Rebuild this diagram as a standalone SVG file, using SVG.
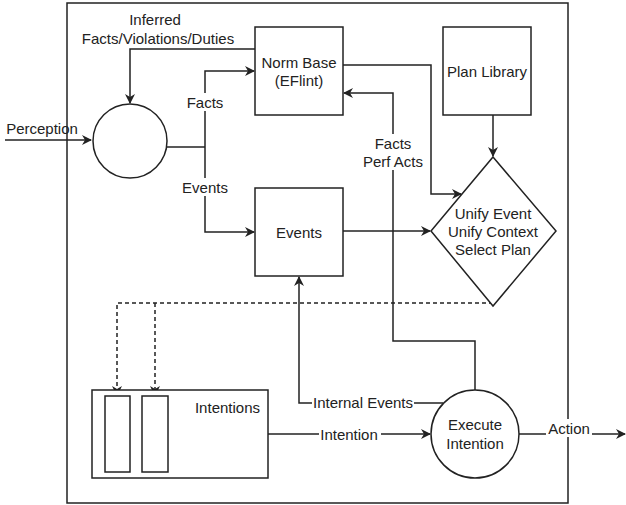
<svg xmlns="http://www.w3.org/2000/svg" width="626" height="505" viewBox="0 0 626 505">
<style>
.s{fill:none;stroke:#222;stroke-width:1.5}
.n{fill:#fff;stroke:#222;stroke-width:1.5}
.d{fill:none;stroke:#222;stroke-width:1.5;stroke-dasharray:4 3}
text{font-family:"Liberation Sans",Arial,sans-serif;font-size:15px;fill:#222;text-anchor:middle;dominant-baseline:central}
.bg{fill:#fff;stroke:none}
</style>
<defs>
<marker id="b" viewBox="0 0 10 10" refX="9" refY="5" markerWidth="10" markerHeight="10" markerUnits="userSpaceOnUse" orient="auto">
<path d="M0,0 L10,5 L0,10 L3,5 Z" fill="#222"/>
</marker>
</defs>
<rect id="agent" x="67" y="3" width="501" height="500" class="s"/>
<g id="connectors">
<path d="M5,140 H91" class="s" marker-end="url(#b)"/>
<path d="M255,49 H130 V103" class="s" marker-end="url(#b)"/>
<path d="M167,147 H205" class="s"/>
<path d="M205,147 V71 H254" class="s" marker-end="url(#b)"/>
<path d="M205,147 V232 H254" class="s" marker-end="url(#b)"/>
<path d="M343,65 H431 V194 H461" class="s" marker-end="url(#b)"/>
<path d="M493,115 V156" class="s" marker-end="url(#b)"/>
<path d="M343,231 H430" class="s" marker-end="url(#b)"/>
<path d="M475,390 V341 H393 V93 H344" class="s" marker-end="url(#b)"/>
<path d="M493,303 H117 V395" class="d" marker-end="url(#b)"/>
<path d="M155,303 V395" class="d" marker-end="url(#b)"/>
<path d="M268,434 H430" class="s" marker-end="url(#b)"/>
<path d="M443,403 H299 V277" class="s" marker-end="url(#b)"/>
<path d="M519,434 H625" class="s" marker-end="url(#b)"/>
<rect x="186" y="93" width="38" height="18" class="bg"/>
<text x="205" y="102">Facts</text>
<rect x="182" y="178" width="46" height="18" class="bg"/>
<text x="205" y="187">Events</text>
<rect x="374" y="134" width="38" height="18" class="bg"/>
<text x="393" y="143">Facts</text>
<rect x="360" y="152" width="66" height="18" class="bg"/>
<text x="393" y="161">Perf Acts</text>
<rect x="312" y="394" width="102" height="18" class="bg"/>
<text x="363" y="402">Internal Events</text>
<rect x="319" y="425" width="62" height="18" class="bg"/>
<text x="349" y="434">Intention</text>
<rect x="546" y="419" width="46" height="18" class="bg"/>
<text x="569" y="428">Action</text>
<text x="42" y="128">Perception</text>
<text x="155" y="19">Inferred</text>
<text x="158" y="38">Facts/Violations/Duties</text>
</g>
<g id="perception">
<circle cx="130" cy="141" r="37" class="n"/>
</g>
<g id="normbase">
<rect x="255" y="27" width="88" height="88" class="n"/>
<text x="299" y="62">Norm Base</text>
<text x="299" y="80">(EFlint)</text>
</g>
<g id="planlibrary">
<rect x="443" y="27" width="88" height="88" class="n"/>
<text x="487" y="71">Plan Library</text>
</g>
<g id="events">
<rect x="255" y="188" width="88" height="88" class="n"/>
<text x="299" y="232">Events</text>
</g>
<g id="unify">
<path d="M493,157 L556,231 L493,306 L431,231 Z" class="n"/>
<text x="493" y="213">Unify Event</text>
<text x="493" y="231">Unify Context</text>
<text x="493" y="249">Select Plan</text>
</g>
<g id="intentions">
<rect x="92" y="390" width="176" height="88" class="n"/>
<rect x="105" y="396" width="25" height="76" class="n"/>
<rect x="142" y="396" width="26" height="76" class="n"/>
<text x="260" y="407" style="text-anchor:end">Intentions</text>
</g>
<g id="execute">
<circle cx="475" cy="434" r="44" class="n"/>
<text x="475" y="424">Execute</text>
<text x="475" y="443">Intention</text>
</g>
</svg>
